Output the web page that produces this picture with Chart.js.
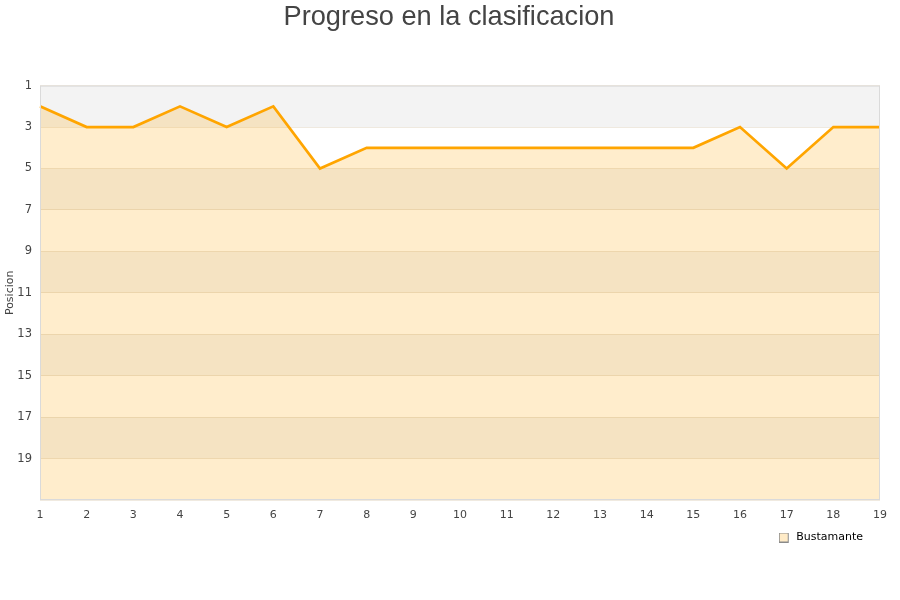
<!DOCTYPE html>
<html>
<head>
<meta charset="utf-8">
<script src="https://cdn.jsdelivr.net/npm/chart.js@4/dist/chart.umd.min.js"></script>
<style>
  html, body { margin: 0; padding: 0; background: #fff; }
  #wrap { width: 900px; height: 600px; }
</style>
</head>
<body>
<div id="wrap"><canvas id="c" width="900" height="600"></canvas></div>
<script>
const titleText = "Progreso en la clasificacion";
const yTitle = "Posicion";
const seriesName = "Bustamante";
const jornadas = ["1","2","3","4","5","6","7","8","9","10","11","12","13","14","15","16","17","18","19"];
const posiciones = [2,3,3,2,3,2,5,4,4,4,4,4,4,4,4,3,5,3,3];
const yMin = 1, yMax = 21, yStep = 2;

// legend marker image: small square box at the left of a 12px wide canvas
const marker = document.createElement('canvas');
marker.width = 12; marker.height = 10;
(function () {
  const m = marker.getContext('2d');
  m.fillStyle = 'rgba(255,165,0,0.22)';
  m.fillRect(0.5, 0.5, 9, 9);
  m.strokeStyle = '#8a8a8a';
  m.lineWidth = 1;
  m.strokeRect(0.5, 0.5, 9, 9);
})();

const bandsPlugin = {
  id: 'bands',
  afterLayout(chart) {
    if (chart.titleBlock) {
      chart.titleBlock.left = 0;
      chart.titleBlock.right = 898;
      chart.titleBlock.width = 898;
    }
    if (chart.legend) {
      chart.legend.right = chart.legend.right - 7;
    }
  },
  beforeDraw(chart) {
    const {ctx, chartArea} = chart;
    const y = chart.scales.y;
    ctx.save();
    ctx.fillStyle = '#ffffff';
    ctx.fillRect(chartArea.left, chartArea.top, chartArea.right - chartArea.left, chartArea.bottom - chartArea.top);
    let k = 0;
    for (let v = yMin; v < yMax; v += yStep, k++) {
      if (k % 2 === 0) {
        const p1 = y.getPixelForValue(v), p2 = y.getPixelForValue(v + yStep);
        ctx.fillStyle = '#f3f3f3';
        ctx.fillRect(chartArea.left, Math.min(p1, p2), chartArea.right - chartArea.left, Math.abs(p2 - p1));
      }
    }
    ctx.restore();
  },
  afterDraw(chart) {
    const {ctx, chartArea} = chart;
    ctx.save();
    ctx.strokeStyle = '#dadada';
    ctx.lineWidth = 1;
    ctx.strokeRect(chartArea.left + 0.5, chartArea.top + 0.5, chartArea.right - chartArea.left - 1, chartArea.bottom - chartArea.top - 1);
    ctx.restore();
  }
};

new Chart(document.getElementById('c'), {
  type: 'line',
  data: {
    labels: jornadas,
    datasets: [{
      label: seriesName,
      data: posiciones,
      borderColor: '#ffa500',
      backgroundColor: 'rgba(255,165,0,0.2)',
      borderWidth: 2.7,
      pointRadius: 0,
      tension: 0,
      fill: 'start'
    }]
  },
  options: {
    responsive: false,
    animation: false,
    layout: { padding: { left: 0, right: 20, top: 0, bottom: 47 } },
    plugins: {
      title: {
        display: true,
        text: titleText,
        color: '#444',
        font: { family: 'Liberation Sans', size: 27.2, weight: 'normal' },
        padding: { top: 1, bottom: 52 }
      },
      legend: {
        position: 'bottom',
        align: 'end',
        labels: {
          usePointStyle: true,
          pointStyleWidth: 12,
          boxHeight: 10,
          color: '#000',
          font: { family: 'DejaVu Sans', size: 11 },
          padding: 10,
          generateLabels: (chart) => [{
            text: seriesName,
            fillStyle: 'rgba(255,165,0,0.2)',
            strokeStyle: '#888',
            lineWidth: 1,
            pointStyle: marker,
            datasetIndex: 0
          }]
        }
      },
      tooltip: { enabled: false }
    },
    scales: {
      x: {
        offset: false,
        grid: { display: false, drawTicks: false, tickLength: 0 },
        border: { display: false },
        afterFit: (s) => { s.height = 22; },
        ticks: { color: '#444', font: { family: 'DejaVu Sans', size: 11 }, maxRotation: 0, autoSkip: false, padding: 9 }
      },
      y: {
        reverse: true,
        min: yMin,
        max: yMax,
        grid: { color: 'rgba(180,150,100,0.2)', drawTicks: false, tickLength: 0 },
        border: { display: false },
        afterFit: (s) => { s.width = 40; },
        title: { display: true, text: yTitle, color: '#444', font: { family: 'DejaVu Sans', size: 11 }, padding: 3.5 },
        ticks: {
          stepSize: yStep,
          color: '#444',
          padding: 8,
          font: { family: 'DejaVu Sans', size: 11.5 },
          callback: (v) => (v === yMax ? '' : String(v))
        }
      }
    }
  },
  plugins: [bandsPlugin]
});
</script>
</body>
</html>
